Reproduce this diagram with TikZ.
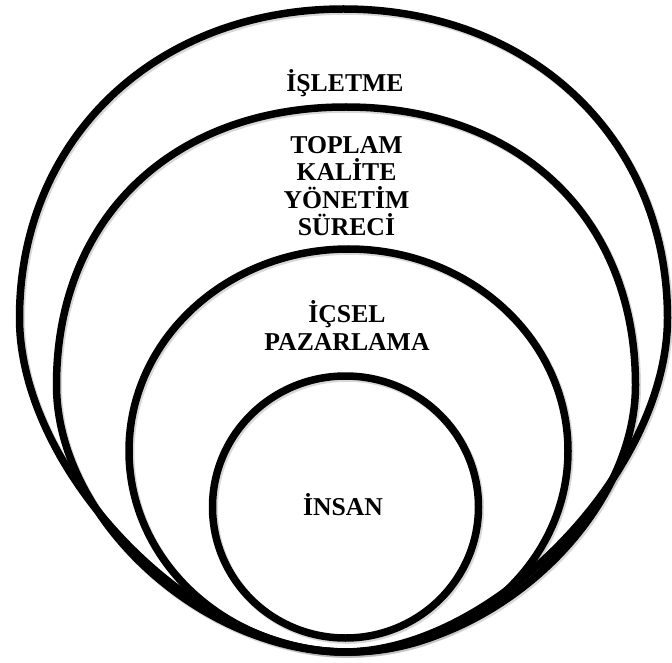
\documentclass[tikz,border=0pt]{standalone}
\usepackage{fontspec}
\setmainfont{Liberation Serif}
\tikzset{
  ringline/.style={draw=black, line width=7.5pt},
  ringshadow/.style={draw=black!30, line width=8pt, opacity=0.5},
  label/.style={font=\bfseries\fontsize{25.7}{27.5}\selectfont, align=center, inner sep=0pt, anchor=center}
}
% egg-shaped ring: cx, cy, a, b-up, b-down, k-up, k-down
\newcommand\eggring[8][ringline]{%
  \draw[#1] ({#2-#4},{#3})
    .. controls ({#2-#4},{#3-#7*#5}) and ({#2-#7*#4},{#3-#5}) .. ({#2},{#3-#5})
    .. controls ({#2+#7*#4},{#3-#5}) and ({#2+#4},{#3-#7*#5}) .. ({#2+#4},{#3})
    .. controls ({#2+#4},{#3+#8*#6}) and ({#2+#8*#4},{#3+#6}) .. ({#2},{#3+#6})
    .. controls ({#2-#8*#4},{#3+#6}) and ({#2-#4},{#3+#8*#6}) .. cycle;}
\begin{document}
\begin{tikzpicture}[x=1pt, y=-1pt]
  \useasboundingbox (0,0) rectangle (672,663);
  % soft shadows
  \begin{scope}[shift={(1.5,1.8)}]
    \eggring[ringshadow]{343.5}{318}{324}{309}{334}{0.58}{0.46}
    \eggring[ringshadow]{346}{385}{289.5}{278}{267}{0.60}{0.50}
    \eggring[ringshadow]{348.5}{451}{219.5}{202}{201}{0.5523}{0.5523}
    \eggring[ringshadow]{345.5}{507}{133}{131}{131}{0.5523}{0.5523}
  \end{scope}
  % rings
  \eggring{343.5}{318}{324}{309}{334}{0.58}{0.46}
  \eggring{346}{385}{289.5}{278}{267}{0.60}{0.50}
  \eggring{348.5}{451}{219.5}{202}{201}{0.5523}{0.5523}
  \eggring{345.5}{507}{133}{131}{131}{0.5523}{0.5523}
  % labels
  \node[label] (isletme) at (345,83.5) {İŞLETME};
  \node[label] (tkys) at (346.5,186) {TOPLAM\\KALİTE\\YÖNETİM\\SÜRECİ};
  \node[label] (icsel) at (347,325.5) {İÇSEL\\PAZARLAMA};
  \node[label] (insan) at (343,505) {İNSAN};
\end{tikzpicture}
\end{document}
